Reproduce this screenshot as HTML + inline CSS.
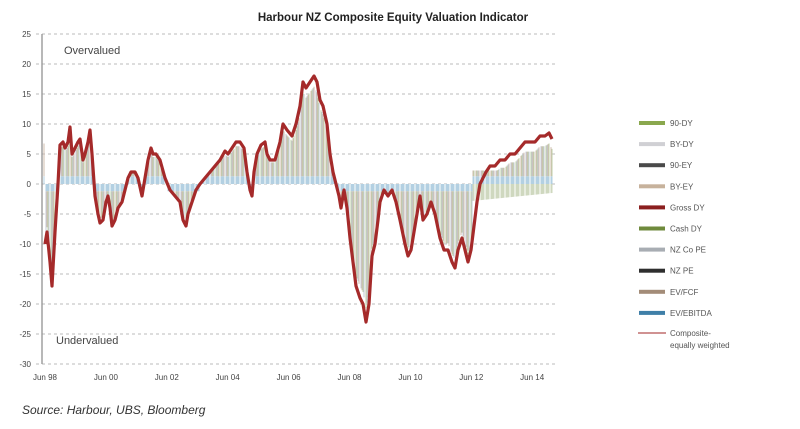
<!DOCTYPE html>
<html><head><meta charset="utf-8"><style>
body{margin:0;background:#fff;width:800px;height:424px;overflow:hidden;font-family:"Liberation Sans",sans-serif}
</style></head><body>
<svg id="s" width="800" height="424" xmlns="http://www.w3.org/2000/svg" font-family="Liberation Sans, sans-serif">
<text x="393" y="21" text-anchor="middle" font-size="11.5" font-weight="bold" fill="#222">Harbour NZ Composite Equity Valuation Indicator</text>
<g id="grid"></g>
<g id="bars"></g>
<line x1="42" y1="34" x2="42" y2="364" stroke="#999" stroke-width="1.4"/>
<path id="comp" fill="none" stroke="#a52a2a" stroke-width="3.2" stroke-linejoin="round"/>
<text x="64" y="54" font-size="11" fill="#444">Overvalued</text>
<text x="56" y="344" font-size="11" fill="#444">Undervalued</text>
<g id="ax" font-size="8" fill="#444"></g>
<g id="leg" font-size="8" fill="#555"></g>
<text x="22" y="414" font-size="12" font-style="italic" fill="#333">Source: Harbour, UBS, Bloomberg</text>
</svg>
<script>
const NS="http://www.w3.org/2000/svg";
function el(p,t,a,tx){const e=document.createElementNS(NS,t);for(const k in a)e.setAttribute(k,a[k]);if(tx)e.textContent=tx;document.getElementById(p).appendChild(e);return e;}
const Y=v=>184-6*v;
for(let v=25;v>=-30;v-=5){
 el('grid','line',{x1:36,x2:556,y1:Y(v),y2:Y(v),stroke:'#bbb','stroke-dasharray':'3,3','stroke-width':1});
 el('ax','text',{x:31,y:Y(v)+3,'text-anchor':'end'},String(v));
}
const yrs=['98','00','02','04','06','08','10','12','14'];
yrs.forEach((y,i)=>el('ax','text',{x:45+i*60.9,y:380,'text-anchor':'middle'},'Jun '+y));
const P=[[45,-10],[47,-8],[50,-13],[52,-17],[55,-8],[58,0],[60,6.5],[63,7],[65,6],[68,7],[70,9.5],[72,5],[75,6],[78,7],[80,7.5],[83,4],[85,5],[88,7],[90,9],[92,5],[95,-2],[98,-5],[100,-6.5],[103,-6],[106,-3],[108,-2],[110,-4],[112,-7],[115,-6],[118,-4],[122,-3],[125,-1],[128,1],[131,2],[135,2],[138,1],[142,-2],[145,1],[148,4],[151,6],[153,5],[156,5],[160,4],[165,1],[170,-1],[175,-2],[180,-3],[183,-6],[186,-7],[188,-5],[192,-3],[196,-1],[200,0],[205,1],[210,2],[215,3],[220,4],[225,5.5],[228,5],[232,6],[236,7],[240,7],[244,6],[247,2],[250,-1],[252,-2],[254,2],[257,5],[261,6.5],[265,7],[267,5],[270,4],[275,4],[280,7],[283,10],[287,9],[292,8],[296,10],[300,13],[303,17],[306,16],[310,17],[314,18],[317,17],[320,14],[323,13],[327,10],[330,5],[333,2],[336,0],[339,-2],[341,-4],[344,-1],[347,-4],[350,-9],[353,-13],[356,-17],[360,-19],[363,-20],[366,-23],[369,-20],[372,-12],[375,-10],[378,-6],[380,-3],[384,-1],[388,-2],[392,-1],[396,-3],[400,-6],[405,-10],[408,-12],[411,-11],[414,-8],[417,-5],[420,-2],[423,-6],[427,-5],[431,-3],[435,-5],[440,-9],[444,-11],[448,-11],[452,-13],[455,-14],[458,-11],[462,-9],[465,-11],[468,-13],[471,-11],[474,-7],[477,-3],[480,0],[483,1],[486,2],[490,3],[495,3],[500,4],[505,4],[510,5],[515,5],[520,6],[525,7],[530,7],[535,7],[540,8],[545,8],[549,8.5],[552,7.5]];
function val(x){for(let i=0;i<P.length-1;i++){if(x>=P[i][0]&&x<=P[i+1][0]){const t=(x-P[i][0])/(P[i+1][0]-P[i][0]);return P[i][1]+t*(P[i+1][1]-P[i][1]);}}return P[P.length-1][1];}
const cols=['#bfcfa8','#d3c4b6','#c3c9d4','#bdbdbd','#cfbcae','#b6c4a0','#c9cfd6'];
for(let x=44;x<=552;x+=1){
 let v=val(x);
 if(x>472){v=Math.max(v-1,2.5);}
 const top=v*0.9;
 const white=(x%5===0);
 const c=white?'#ffffff':cols[Math.floor(x*7/3)%cols.length];
 const b=white?'#ffffff':'#b3d0e2';
 if(v<0){el('bars','line',{x1:x,x2:x,y1:Y(0),y2:Y(-1.2),stroke:b,'stroke-width':1});}
 else{el('bars','line',{x1:x,x2:x,y1:Y(0),y2:Y(Math.min(1.3,top)),stroke:b,'stroke-width':1});}
 if(v>=0&&top>1.3)el('bars','line',{x1:x,x2:x,y1:Y(1.3),y2:Y(top),stroke:c,'stroke-width':1});
 if(v<-1.2)el('bars','line',{x1:x,x2:x,y1:Y(-1.2),y2:Y(v*0.9),stroke:c,'stroke-width':1});
 if(x>472)el('bars','line',{x1:x,x2:x,y1:Y(0),y2:Y(-1.5-(552-x)/60),stroke:white?'#fff':'#cfd8bf','stroke-width':1});
}
document.getElementById('comp').setAttribute('d','M'+P.map(p=>p[0]+','+Y(p[1])).join(' L'));
const L=[['90-DY','#8aa84e'],['BY-DY','#d0d0d4'],['90-EY','#4a4a4a'],['BY-EY','#c7b29c'],['Gross DY','#8b1f1f'],['Cash DY','#6f8a3c'],['NZ Co PE','#a8adb3'],['NZ PE','#2e2e2e'],['EV/FCF','#a38c78'],['EV/EBITDA','#3f7fa8']];
L.forEach((l,i)=>{const y=123+i*21.1;el('leg','rect',{x:639,y:y-2,width:26,height:4,fill:l[1]});el('leg','text',{x:670,y:y+3},l[0]);});
el('leg','line',{x1:638,x2:666,y1:333,y2:333,stroke:'#b55050','stroke-width':1.2});
el('leg','text',{x:670,y:336},'Composite-');
el('leg','text',{x:670,y:348},'equally weighted');
</script>
</body></html>
